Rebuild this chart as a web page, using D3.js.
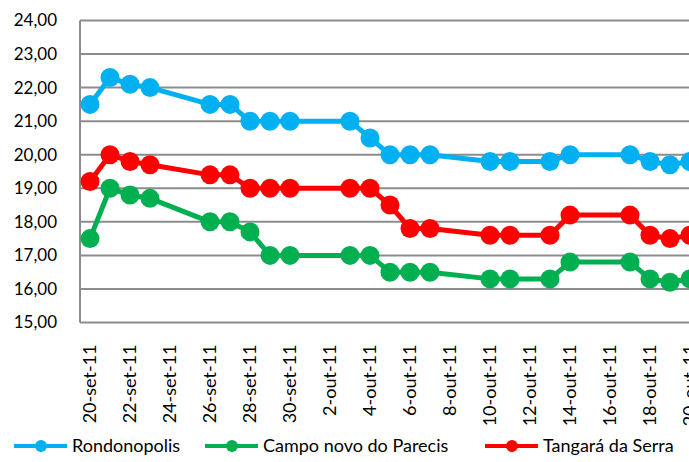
<!DOCTYPE html>
<html>
<head>
<meta charset="utf-8">
<script src="https://cdn.jsdelivr.net/npm/d3@7"></script>
<style>
  body { margin: 0; background: #fff; }
  text { font-family: Lato, "Open Sans", sans-serif; fill: #000; }
</style>
</head>
<body>
<script>
// DATA ––––––––––––––––––––––––––––––––––––––––––––––––––––––––––––––––

  var dates = ["2011-09-20", "2011-09-21", "2011-09-22", "2011-09-23", "2011-09-26",
               "2011-09-27", "2011-09-28", "2011-09-29", "2011-09-30", "2011-10-03",
               "2011-10-04", "2011-10-05", "2011-10-06", "2011-10-07", "2011-10-10",
               "2011-10-11", "2011-10-13", "2011-10-14", "2011-10-17", "2011-10-18",
               "2011-10-19", "2011-10-20"];

  var rondonopolis = [21.5, 22.3, 22.1, 22.0, 21.5, 21.5, 21.0, 21.0, 21.0, 21.0, 20.5,
                      20.0, 20.0, 20.0, 19.8, 19.8, 19.8, 20.0, 20.0, 19.8, 19.7, 19.8];

  var campoNovo = [17.5, 19.0, 18.8, 18.7, 18.0, 18.0, 17.7, 17.0, 17.0, 17.0, 17.0,
                   16.5, 16.5, 16.5, 16.3, 16.3, 16.3, 16.8, 16.8, 16.3, 16.2, 16.3];

  var tangara = [19.2, 20.0, 19.8, 19.7, 19.4, 19.4, 19.0, 19.0, 19.0, 19.0, 19.0,
                 18.5, 17.8, 17.8, 17.6, 17.6, 17.6, 18.2, 18.2, 17.6, 17.5, 17.6];

  var tickDates = ["2011-09-20", "2011-09-22", "2011-09-24", "2011-09-26", "2011-09-28",
                   "2011-09-30", "2011-10-02", "2011-10-04", "2011-10-06", "2011-10-08",
                   "2011-10-10", "2011-10-12", "2011-10-14", "2011-10-16", "2011-10-18",
                   "2011-10-20"];

  var yTicks = [15, 16, 17, 18, 19, 20, 21, 22, 23, 24];

  var monthNames = ["jan", "fev", "mar", "abr", "mai", "jun", "jul", "ago", "set", "out", "nov", "dez"];

  var series = [
    {name: "Rondonopolis", values: rondonopolis, color: "#00B0F0"},
    {name: "Campo novo do Parecis", values: campoNovo, color: "#00B050"},
    {name: "Tangará da Serra", values: tangara, color: "#FF0000"}
  ];

// CHART ––––––––––––––––––––––––––––––––––––––––––––––––––––––––––––––––

  var parse = d3.utcParse("%Y-%m-%d");

  var width = 689,
      height = 462,
      margin = {top: 20.5, left: 80, bottom: 139.5};

  var svg = d3.select("body").append("svg")
      .attr("width", width)
      .attr("height", height);

  // date axis, half a day of padding on each side (Excel style)
  var x = d3.scaleUtc()
      .domain([d3.utcHour.offset(parse("2011-09-20"), -12), d3.utcHour.offset(parse("2011-10-21"), 12)])
      .range([margin.left, margin.left + 32 * 20]);

  var y = d3.scaleLinear()
      .domain([15, 24])
      .range([height - margin.bottom, margin.top]);

  var ptBR = d3.formatLocale({decimal: ",", thousands: ".", grouping: [3], currency: ["R$", ""]});
  var fmtY = ptBR.format(".2f");

  var fmtX = function(d) {
    return d.getUTCDate() + "-" + monthNames[d.getUTCMonth()] + "-" + String(d.getUTCFullYear()).slice(2);
  };

  // gridlines
  svg.append("g")
    .selectAll("line")
    .data(yTicks)
    .join("line")
      .attr("x1", margin.left)
      .attr("x2", x.range()[1])
      .attr("y1", function(d) { return y(d); })
      .attr("y2", function(d) { return y(d); })
      .attr("stroke", "#8c8c8c")
      .attr("stroke-width", 2);

  // left axis line
  svg.append("line")
    .attr("x1", margin.left).attr("x2", margin.left)
    .attr("y1", y(24)).attr("y2", y(15))
    .attr("stroke", "#8c8c8c")
    .attr("stroke-width", 2);

  // y labels
  svg.append("g")
    .selectAll("text")
    .data(yTicks)
    .join("text")
      .attr("x", 57)
      .attr("y", function(d) { return y(d); })
      .attr("dy", "0.35em")
      .attr("text-anchor", "end")
      .style("font-size", "17px")
      .text(function(d) { return fmtY(d); });

  // x labels
  svg.append("g")
    .selectAll("text")
    .data(tickDates.map(parse))
    .join("text")
      .attr("transform", function(d) { return "translate(" + x(d) + "," + (y(15) + 22) + ") rotate(-90)"; })
      .attr("dy", "0.35em")
      .attr("text-anchor", "end")
      .style("font-size", "18px")
      .text(fmtX);

  // lines + markers
  var line = d3.line()
      .x(function(d) { return x(d.date); })
      .y(function(d) { return y(d.value); });

  series.forEach(function(s) {
    var pts = s.values.map(function(v, i) { return {date: parse(dates[i]), value: v}; });

    svg.append("path")
      .datum(pts)
      .attr("fill", "none")
      .attr("stroke", s.color)
      .attr("stroke-width", 5)
      .attr("stroke-linejoin", "round")
      .attr("d", line);

    svg.append("g")
      .selectAll("circle")
      .data(pts)
      .join("circle")
        .attr("cx", function(d) { return x(d.date); })
        .attr("cy", function(d) { return y(d.value); })
        .attr("r", 9.5)
        .attr("fill", s.color);
  });

  // legend
  var legendX = [14, 205, 485];
  var legend = svg.append("g");
  series.forEach(function(s, i) {
    var g = legend.append("g").attr("transform", "translate(" + legendX[i] + ",446)");
    g.append("line").attr("x1", 0).attr("x2", 53).attr("stroke", s.color).attr("stroke-width", 4);
    g.append("circle").attr("cx", 27).attr("r", 6).attr("fill", s.color);
    g.append("text").attr("x", 58).attr("dy", "0.35em").style("font-size", "18px").text(s.name);
  });
</script>
</body>
</html>
